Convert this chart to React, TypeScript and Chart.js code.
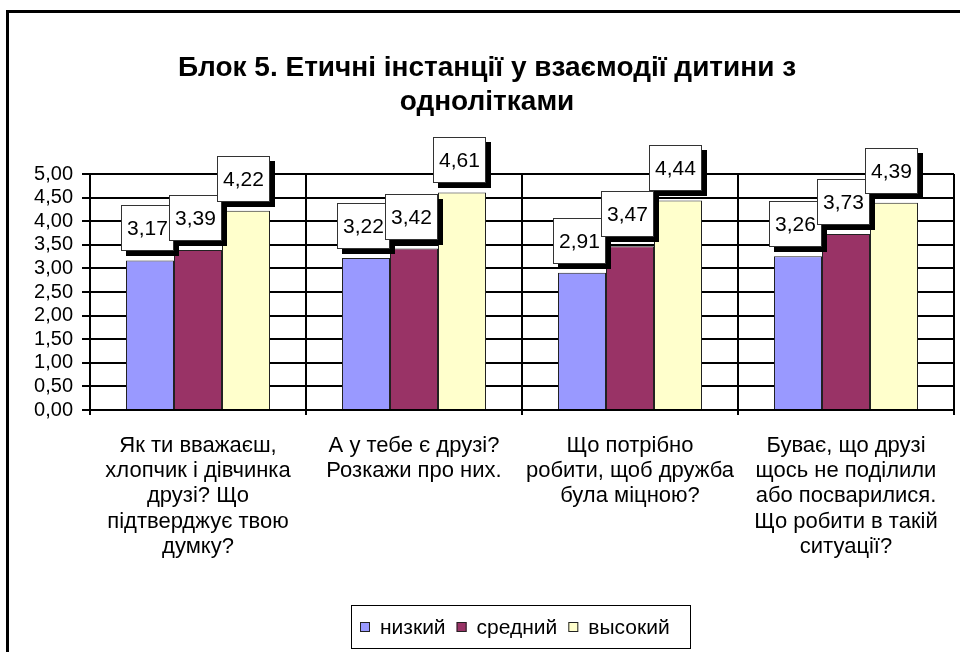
import React, { useEffect, useRef } from "react";
import { Chart, registerables } from "chart.js";

Chart.register(...registerables);

const titleLines = ["Блок 5. Етичні інстанції у взаємодії дитини з", "однолітками"];
const categories: string[][] = [
  ["Як ти вважаєш,", "хлопчик і дівчинка", "друзі? Що", "підтверджує твою", "думку?"],
  ["А у тебе є друзі?", "Розкажи про них."],
  ["Що потрібно", "робити, щоб дружба", "була міцною?"],
  ["Буває, що друзі", "щось не поділили", "або посварилися.", "Що робити в такій", "ситуації?"],
];
const seriesNames = ["низкий", "средний", "высокий"];
const lowValues = [3.17, 3.22, 2.91, 3.26];
const midValues = [3.39, 3.42, 3.47, 3.73];
const highValues = [4.22, 4.61, 4.44, 4.39];
const seriesColors = ["#9999FF", "#993366", "#FFFFCC"];
const yMin = 0;
const yMax = 5;
const yStep = 0.5;

const FONT = "'Liberation Sans', Arial, sans-serif";
const fmt = (v: number) => v.toFixed(2).replace(".", ",");

const framePlugin = {
  id: "frameAndTitle",
  beforeDraw(chart: any) {
    const ctx = chart.ctx;
    ctx.save();
    ctx.fillStyle = "#ffffff";
    ctx.fillRect(0, 0, chart.width, chart.height);
    ctx.strokeStyle = "#000";
    ctx.lineWidth = 3;
    ctx.beginPath();
    ctx.moveTo(7.5, chart.height + 5);
    ctx.lineTo(7.5, 11.5);
    ctx.lineTo(chart.width + 5, 11.5);
    ctx.stroke();
    ctx.fillStyle = "#000";
    ctx.font = `bold 28px ${FONT}`;
    ctx.textAlign = "center";
    ctx.textBaseline = "middle";
    titleLines.forEach((t, i) => ctx.fillText(t, 487, 68 + i * 34));
    ctx.restore();
  },
};

const labelPlugin = {
  id: "valueBoxes",
  afterDatasetsDraw(chart: any) {
    const ctx = chart.ctx;
    ctx.save();
    ctx.font = `21px ${FONT}`;
    ctx.textAlign = "center";
    ctx.textBaseline = "middle";
    chart.data.datasets.forEach((ds: any, di: number) => {
      const meta = chart.getDatasetMeta(di);
      meta.data.forEach((bar: any, i: number) => {
        const w = 53;
        const h = 46;
        const cx = bar.x - 2.5;
        const cy = bar.y - 9 - h / 2;
        const l = Math.round(cx - w / 2);
        const t = Math.round(cy - h / 2);
        ctx.fillStyle = "#000";
        ctx.fillRect(l + 5, t + 5, w, h);
        ctx.fillStyle = "#fff";
        ctx.fillRect(l, t, w, h);
        ctx.strokeStyle = "#333";
        ctx.lineWidth = 1;
        ctx.strokeRect(l + 0.5, t + 0.5, w - 1, h - 1);
        ctx.fillStyle = "#000";
        ctx.fillText(fmt(ds.data[i]), l + w / 2, t + h / 2 + 1);
      });
    });
    ctx.restore();
  },
  afterDraw(chart: any) {
    const ctx = chart.ctx;
    ctx.save();
    const bx = 351, by = 605, bw = 339, bh = 43;
    ctx.fillStyle = "#fff";
    ctx.fillRect(bx, by, bw, bh);
    ctx.strokeStyle = "#000";
    ctx.lineWidth = 1;
    ctx.strokeRect(bx + 0.5, by + 0.5, bw, bh);
    ctx.font = `21px ${FONT}`;
    ctx.textBaseline = "middle";
    ctx.textAlign = "left";
    let x = 360;
    const cy = 627;
    chart.data.datasets.forEach((ds: any) => {
      ctx.fillStyle = ds.backgroundColor;
      ctx.fillRect(x, cy - 5, 10, 10);
      ctx.strokeStyle = "#222";
      ctx.strokeRect(x + 0.5, cy - 5 + 0.5, 9, 9);
      ctx.fillStyle = "#000";
      ctx.fillText(ds.label, x + 20, cy + 1);
      x += 20 + ctx.measureText(ds.label).width + 11;
    });
    ctx.restore();
  },
};

export default function App() {
  const ref = useRef<HTMLCanvasElement>(null);
  useEffect(() => {
    const ds = [lowValues, midValues, highValues].map((d, i) => ({
      label: seriesNames[i],
      data: d,
      backgroundColor: seriesColors[i],
      borderColor: "#222",
      borderWidth: 1,
      categoryPercentage: 0.6667,
      barPercentage: 1,
    }));
    const chart = new Chart(ref.current!, {
      type: "bar",
      data: { labels: categories, datasets: ds },
      options: {
        responsive: false,
        animation: false,
        devicePixelRatio: 1,
        layout: { padding: { top: 174, left: 0, right: 6, bottom: 0 } },
        plugins: { legend: { display: false }, title: { display: false }, tooltip: { enabled: false } },
        scales: {
          x: {
            grid: { offset: true, color: "#000", lineWidth: 2, tickLength: 5, drawTicks: true },
            border: { color: "#000", width: 2 },
            ticks: {
              color: "#000",
              font: { family: FONT, size: 22, lineHeight: 1.15 },
              padding: 18,
              maxRotation: 0,
              autoSkip: false,
            },
            afterFit: (s: any) => { s.height = 242; },
          },
          y: {
            min: yMin,
            max: yMax,
            grid: { color: "#000", lineWidth: 2, tickLength: 8 },
            border: { color: "#000", width: 2 },
            ticks: {
              stepSize: yStep,
              autoSkip: false,
              color: "#000",
              font: { family: FONT, size: 20, lineHeight: 1 },
              padding: 9,
              callback: (v: any) => fmt(Number(v)),
            },
            afterFit: (s: any) => { s.width = 90; },
          },
        },
      },
      plugins: [framePlugin, labelPlugin],
    });
    return () => chart.destroy();
  }, []);
  return (
    <div style={{ position: "absolute", left: 0, top: 0, width: 960, height: 652, background: "#fff" }}>
      <canvas ref={ref} width={960} height={652} style={{ display: "block" }} />
    </div>
  );
}
